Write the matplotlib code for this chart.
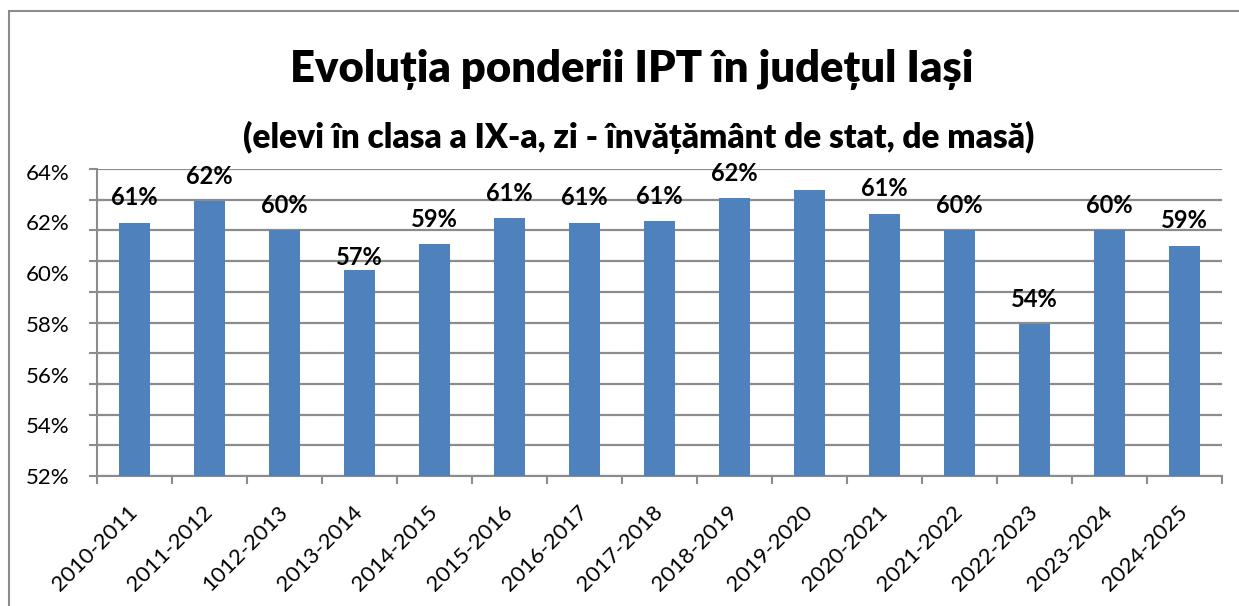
import matplotlib as mpl
mpl.use('agg')
import matplotlib.pyplot as plt
from matplotlib.patches import Rectangle
from matplotlib.transforms import ScaledTranslation
import numpy as np

plt.rcParams['font.family'] = ['Lato', 'DejaVu Sans']

# data
years = ['2010-2011', '2011-2012', '1012-2013', '2013-2014', '2014-2015',
         '2015-2016', '2016-2017', '2017-2018', '2018-2019', '2019-2020',
         '2020-2021', '2021-2022', '2022-2023', '2023-2024', '2024-2025']
share = [60.5, 61.9, 60.0, 57.4, 59.1, 60.8, 60.5, 60.6, 62.1, 62.6,
         61.1, 60.0, 53.9, 60.0, 59.0]
value_labels = ['61%', '62%', '60%', '57%', '59%', '61%', '61%', '61%', '62%', '',
                '61%', '60%', '54%', '60%', '59%']
# labels printed on the value axis (they do not line up with the gridlines)
axis_labels = [52, 54, 56, 58, 60, 62, 64]

W, H = 1239, 606
fig = plt.figure(figsize=(W / 100, H / 100), dpi=100)

# outer chart frame
fig.patches.append(Rectangle((9 / W, -0.1), 1.2, (H - 11) / H + 0.1,
                             transform=fig.transFigure, fill=False,
                             edgecolor='#8c8c8c', linewidth=1.5))

ax = fig.add_axes([97 / W, (H - 476) / H, (1222 - 97) / W, (476 - 169) / H])
x = np.arange(len(years))
ax.bar(x, share, width=0.41, color='#4f81bd', zorder=3)
ax.set_xlim(-0.5, len(years) - 0.5)
ax.set_ylim(44, 64)
ax.set_yticks(np.arange(44, 65, 2))
ax.yaxis.grid(True, color='#8c8c8c', linewidth=1.6, zorder=0)
ax.tick_params(axis='y', length=6, width=1.5, color='#8c8c8c', labelleft=False)

# category labels at centres, tick marks at boundaries
ax.set_xticks(x)
ax.set_xticklabels(years, rotation=45, ha='right', rotation_mode='anchor', fontsize=16)
ax.set_xticks(np.arange(-0.5, len(years), 1), minor=True)
ax.tick_params(axis='x', which='major', length=0, pad=17)
ax.tick_params(axis='x', which='minor', length=6, width=1.5, color='#8c8c8c')
shift = ScaledTranslation(-7 / 100, -2 / 100, fig.dpi_scale_trans)
for t in ax.get_xticklabels():
    t.set_transform(t.get_transform() + shift)

for side in ['top', 'right']:
    ax.spines[side].set_visible(False)
for side in ['left', 'bottom']:
    ax.spines[side].set_color('#8c8c8c')
    ax.spines[side].set_linewidth(1.5)

# value labels above bars
for i, (v, lab) in enumerate(zip(share, value_labels)):
    if not lab:
        continue
    off = 9 if i == 3 else 18
    ax.annotate(lab, (i, v), xytext=(0, off), textcoords='offset points',
                ha='center', va='center', fontsize=17, fontweight='bold', zorder=5)

# second axis just to carry the printed value-axis labels
ax2 = ax.twinx()
ax2.set_ylim(52.2, 64.1)
ax2.set_yticks(axis_labels)
ax2.set_yticklabels(['%d%%' % a for a in axis_labels], fontsize=16)
ax2.yaxis.set_ticks_position('left')
ax2.yaxis.set_label_position('left')
ax2.tick_params(axis='y', length=0, pad=20)
for s in ax2.spines.values():
    s.set_visible(False)

fig.text(632 / W, 1 - 70 / H, 'Evoluția ponderii IPT în județul Iași',
         ha='center', va='center', fontsize=31.3, fontweight='heavy')
fig.text(639 / W, 1 - 137 / H, '(elevi în clasa a IX-a, zi - învățământ de stat, de masă)',
         ha='center', va='center', fontsize=24, fontweight='heavy')

fig.savefig('out.png', dpi=100)
